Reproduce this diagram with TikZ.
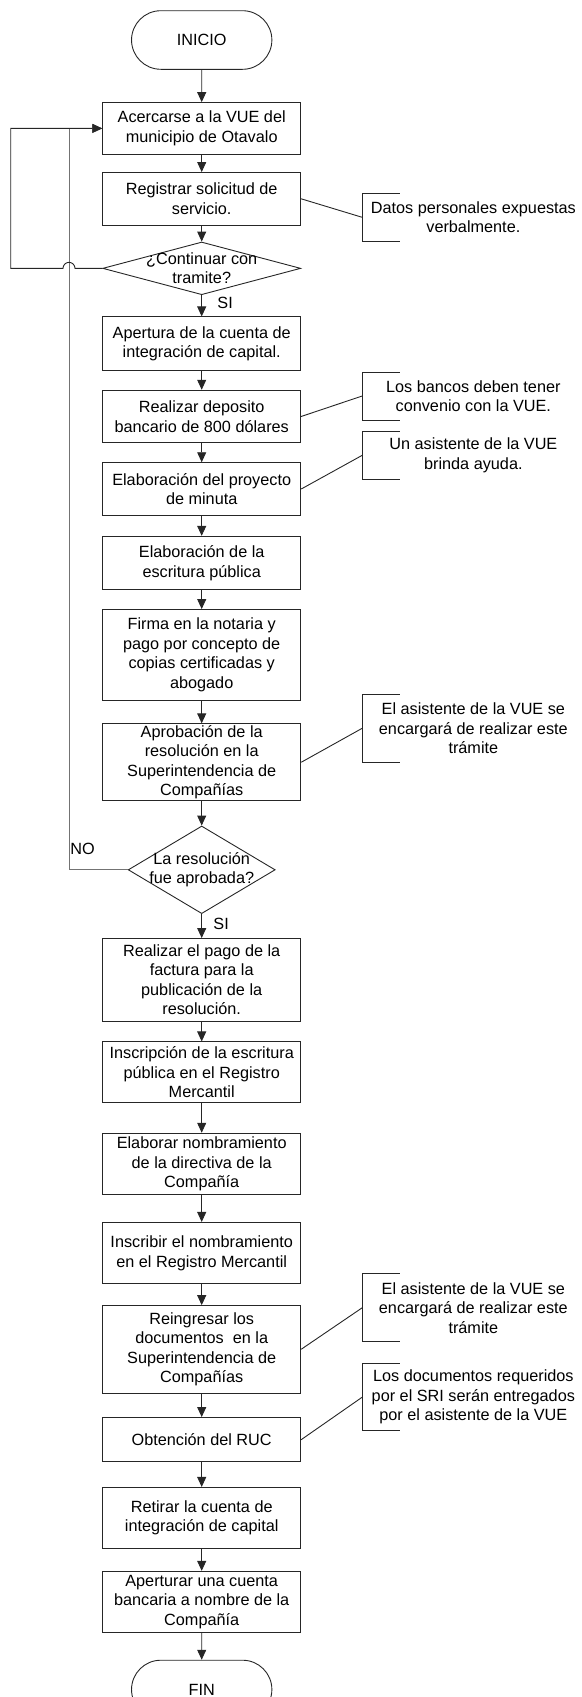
\documentclass[tikz,border=0pt]{standalone}
\usepackage{fontspec}
\setmainfont{Liberation Sans}
\usepackage{tikz}
\usetikzlibrary{shapes.geometric, shapes.misc, arrows.meta, positioning, calc}
\newcommand{\fuente}{\fontsize{16.25}{19.5}\selectfont}

\begin{document}
\begin{tikzpicture}[
    x=1pt, y=-1pt,
    node distance=20pt,
    linea/.style={line width=0.9pt, draw=black!85},
    caja/.style={draw=black!85, line width=0.9pt, minimum width=198pt, inner sep=0pt, align=center, font=\fuente},
    terminal/.style={draw=black!85, line width=0.9pt, rounded rectangle, minimum width=147pt, minimum height=58.6pt, font=\fuente},
    decision/.style={draw=black!85, line width=0.9pt, diamond, inner sep=0pt},
    nota/.style={minimum width=222pt, inner sep=0pt, align=center, font=\fuente},
    flecha/.style={linea, -{Triangle[length=10pt, width=9pt]}},
    every label/.style={font=\fuente, align=center}
]
    \useasboundingbox (0,0) rectangle (581,1697);

    \node[terminal] (inicio) at (201.7,40) {INICIO};
    \node[caja, minimum height=51.6pt, below=32.4pt of inicio] (acercarse) {Acercarse a la VUE del\\municipio de Otavalo};
    \node[caja, minimum height=52.6pt, below=17.4pt of acercarse] (registrar) {Registrar solicitud de\\servicio.};
    \node[decision, minimum width=198pt, minimum height=52.7pt, below=16pt of registrar, label={center:{¿Continuar con\\tramite?}}] (continuar) {};
    \node[caja, minimum height=53.4pt, below=21.3pt of continuar] (apertura) {Apertura de la cuenta de\\integración de capital.};
    \node[caja, minimum height=52.6pt, below=19pt of apertura] (deposito) {Realizar deposito\\bancario de 800 dólares};
    \node[caja, minimum height=52.7pt, below=19pt of deposito] (minuta) {Elaboración del proyecto\\de minuta};
    \node[caja, minimum height=53.3pt, below=20pt of minuta] (escritura) {Elaboración de la\\escritura pública};
    \node[caja, minimum height=91pt, below=19pt of escritura] (firma) {Firma en la notaria y\\pago por concepto de\\copias certificadas y\\abogado};
    \node[caja, minimum height=77pt, below=22.4pt of firma] (aprobacion) {Aprobación de la\\resolución en la\\Superintendencia de\\Compañías};
    \node[decision, minimum width=147pt, minimum height=87.6pt, below=24.3pt of aprobacion, label={center:{La resolución\\fue aprobada?}}] (aprobada) {};
    \node[caja, minimum height=82.5pt, below=24pt of aprobada] (pago) {Realizar el pago de la\\factura para la\\publicación de la\\resolución.};
    \node[caja, minimum height=61pt, below=20pt of pago] (inscripcion) {Inscripción de la escritura\\pública en el Registro\\Mercantil};
    \node[caja, minimum height=61.3pt, below=29.4pt of inscripcion] (nombramiento) {Elaborar nombramiento\\de la directiva de la\\Compañía};
    \node[caja, minimum height=61.3pt, below=27pt of nombramiento] (inscribir) {Inscribir el nombramiento\\en el Registro Mercantil};
    \node[caja, minimum height=87.4pt, below=21pt of inscribir] (reingresar) {Reingresar los\\documentos\ \ en la\\Superintendencia de\\Compañías};
    \node[caja, minimum height=44.4pt, below=23.6pt of reingresar] (ruc) {Obtención del RUC};
    \node[caja, minimum height=60.7pt, below=24.6pt of ruc] (retirar) {Retirar la cuenta de\\integración de capital};
    \node[caja, minimum height=61.4pt, below=22.3pt of retirar] (cuenta) {Aperturar una cuenta\\bancaria a nombre de la\\Compañía};
    \node[terminal, below=26.6pt of cuenta] (fin) {FIN};

    % notas
    \node[nota, minimum height=47.6pt, right=61pt of registrar, yshift=-18.5pt] (notaDatos) {Datos personales expuestas\\verbalmente.};
    \node[nota, minimum height=47.6pt, right=61pt of deposito, yshift=20.5pt] (notaBancos) {Los bancos deben tener\\convenio con la VUE.};
    \node[nota, minimum height=48pt, right=61pt of minuta, yshift=33.7pt] (notaAyuda) {Un asistente de la VUE\\brinda ayuda.};
    \node[nota, minimum height=67.3pt, right=61pt of aprobacion, yshift=34pt] (notaAsistA) {El asistente de la VUE se\\encargará de realizar este\\trámite};
    \node[nota, minimum height=67.6pt, right=61pt of reingresar, yshift=41.5pt] (notaAsistB) {El asistente de la VUE se\\encargará de realizar este\\trámite};
    \node[nota, minimum height=66.7pt, right=61pt of ruc, yshift=42.5pt] (notaSRI) {Los documentos requeridos\\por el SRI serán entregados\\por el asistente de la VUE};

    \coordinate (retorno) at (69,0);
    \coordinate (lazo) at (10.7,0);

    \draw[flecha] (inicio) -- (acercarse);
    \draw[flecha] (acercarse) -- (registrar);
    \draw[flecha] (registrar) -- (continuar);
    \draw[flecha] (continuar) -- node[anchor=west, pos=0.35, xshift=12pt, font=\fuente] {SI} (apertura);
    \draw[flecha] (apertura) -- (deposito);
    \draw[flecha] (deposito) -- (minuta);
    \draw[flecha] (minuta) -- (escritura);
    \draw[flecha] (escritura) -- (firma);
    \draw[flecha] (firma) -- (aprobacion);
    \draw[flecha] (aprobacion) -- (aprobada);
    \draw[flecha] (aprobada) -- node[anchor=west, pos=0.43, xshift=8pt, font=\fuente] {SI} (pago);
    \draw[flecha] (pago) -- (inscripcion);
    \draw[flecha] (inscripcion) -- (nombramiento);
    \draw[flecha] (nombramiento) -- (inscribir);
    \draw[flecha] (inscribir) -- (reingresar);
    \draw[flecha] (reingresar) -- (ruc);
    \draw[flecha] (ruc) -- (retirar);
    \draw[flecha] (retirar) -- (cuenta);
    \draw[flecha] (cuenta) -- (fin);

    % retornos
    \draw[flecha, draw=black!55] (aprobada.west) -- (aprobada.west -| retorno) node[anchor=south west, inner sep=1pt, yshift=13.5pt, font=\fuente] {NO} -- (acercarse.west -| retorno) -- (acercarse.west);
    \draw[flecha] (continuar.west) -- ([xshift=6pt]continuar.west -| retorno) arc[start angle=0, end angle=180, radius=6pt] -- (continuar.west -| lazo) -- (acercarse.west -| lazo) -- (acercarse.west);

    % corchetes de las notas
    \draw[linea] ([xshift=37.6pt]notaDatos.north west) -- (notaDatos.north west) -- (notaDatos.south west) -- ([xshift=37.6pt]notaDatos.south west);
    \draw[linea] ([xshift=37.6pt]notaBancos.north west) -- (notaBancos.north west) -- (notaBancos.south west) -- ([xshift=37.6pt]notaBancos.south west);
    \draw[linea] ([xshift=37.6pt]notaAyuda.north west) -- (notaAyuda.north west) -- (notaAyuda.south west) -- ([xshift=37.6pt]notaAyuda.south west);
    \draw[linea] ([xshift=37.6pt]notaAsistA.north west) -- (notaAsistA.north west) -- (notaAsistA.south west) -- ([xshift=37.6pt]notaAsistA.south west);
    \draw[linea] ([xshift=37.6pt]notaAsistB.north west) -- (notaAsistB.north west) -- (notaAsistB.south west) -- ([xshift=37.6pt]notaAsistB.south west);
    \draw[linea] ([xshift=37.6pt]notaSRI.north west) -- (notaSRI.north west) -- (notaSRI.south west) -- ([xshift=37.6pt]notaSRI.south west);

    \draw[linea] (registrar.east) -- (notaDatos.west);
    \draw[linea] (deposito.east) -- (notaBancos.west);
    \draw[linea] (minuta.east) -- (notaAyuda.west);
    \draw[linea] (aprobacion.east) -- (notaAsistA.west);
    \draw[linea] (reingresar.east) -- (notaAsistB.west);
    \draw[linea] (ruc.east) -- (notaSRI.west);
\end{tikzpicture}
\end{document}
